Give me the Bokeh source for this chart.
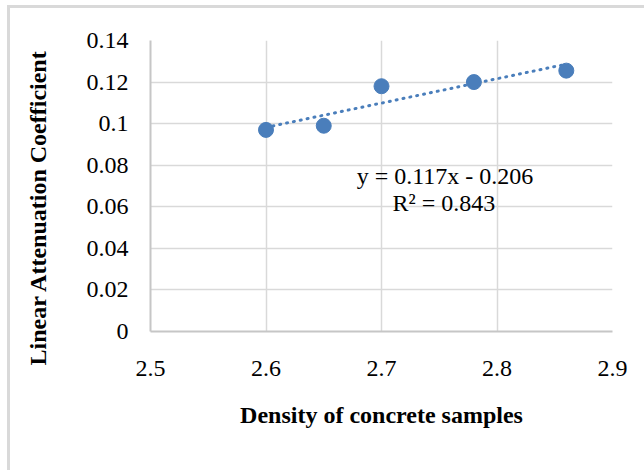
from bokeh.plotting import figure
from bokeh.models import FixedTicker, Label, Title
from bokeh.embed import file_html
from bokeh.resources import INLINE

# Data
density = [2.6, 2.65, 2.7, 2.78, 2.86]
attenuation = [0.097, 0.099, 0.118, 0.120, 0.1255]

# Trendline coefficients as printed on the chart
slope = 0.117
intercept = -0.206
eq_text = "y = 0.117x - 0.206"
r2_text = "R\u00b2 = 0.843"

x_ticks = [2.5, 2.6, 2.7, 2.8, 2.9]
x_labels = ["2.5", "2.6", "2.7", "2.8", "2.9"]
y_ticks = [0, 0.02, 0.04, 0.06, 0.08, 0.1, 0.12, 0.14]
y_labels = ["0", "0.02", "0.04", "0.06", "0.08", "0.1", "0.12", "0.14"]

x_title = "Density of concrete samples"
y_title = "Linear Attenuation Coefficient"

FONT = "Liberation Serif"
BLUE = "#4a7ebb"

p = figure(
    output_backend="svg",
    toolbar_location=None,
    frame_width=462,
    frame_height=291,
    min_border_left=160,
    min_border_right=32,
    min_border_top=40,
    min_border_bottom=139,
    x_range=(2.5, 2.9),
    y_range=(0, 0.14),
    background_fill_color="white",
    border_fill_color=None,
)
# chart-area frame (light grey left/top edge), drawn as inset shadows
p.styles = {
    "margin-left": "-10px",
    "box-shadow": "inset 17px 5px 0 0 #ffffff, inset 20px 8px 0 0 #d9d9d9",
}
p.outline_line_color = None

# Grid
p.xgrid.ticker = FixedTicker(ticks=x_ticks)
p.ygrid.ticker = FixedTicker(ticks=y_ticks)
for g in (p.xgrid, p.ygrid):
    g.grid_line_color = "#d9d9d9"
    g.grid_line_width = 1.5

# Axes
p.xaxis.ticker = FixedTicker(ticks=x_ticks)
p.yaxis.ticker = FixedTicker(ticks=y_ticks)
p.xaxis.major_label_overrides = {t: l for t, l in zip(x_ticks, x_labels)}
p.yaxis.major_label_overrides = {t: l for t, l in zip(y_ticks, y_labels)}
for ax in (p.xaxis, p.yaxis):
    ax.axis_line_color = "#c6c6c6"
    ax.axis_line_width = 2
    ax.major_tick_line_color = None
    ax.minor_tick_line_color = None
    ax.major_tick_out = 0
    ax.major_tick_in = 0
    ax.major_label_text_font = FONT
    ax.major_label_text_font_size = "24px"
    ax.major_label_text_color = "#000000"
    ax.axis_label_text_font = FONT
    ax.axis_label_text_font_size = "24px"
    ax.axis_label_text_font_style = "bold"
    ax.axis_label_text_color = "#000000"

p.xaxis.axis_label = x_title
p.xaxis.major_label_standoff = 29
p.yaxis.major_label_standoff = 22
p.xaxis.axis_label_standoff = 23

# Y-axis title as a side title (sits slightly below the frame centre)
ytitle = Title(text=y_title, align="left", vertical_align="middle", offset=-34,
               standoff=64, text_font=FONT, text_font_size="24px",
               text_font_style="bold", text_color="#000000")
p.add_layout(ytitle, "left")

# Trendline
tx = [min(density), max(density)]
ty = [slope * v + intercept for v in tx]
p.line(tx, ty, line_color=BLUE, line_width=3, line_dash="1 6", line_cap="round")

# Points
p.scatter(density, attenuation, size=15, fill_color=BLUE, line_color=BLUE)

# Equation labels
p.add_layout(Label(x=2.755, y=0.075, text=eq_text, text_font=FONT,
                   text_font_size="24px", text_align="center",
                   text_baseline="alphabetic", text_color="#000000"))
p.add_layout(Label(x=2.754, y=0.0616, text=r2_text, text_font=FONT,
                   text_font_size="24px", text_align="center",
                   text_baseline="alphabetic", text_color="#000000"))

open("out.html", "w").write(file_html(p, INLINE))
